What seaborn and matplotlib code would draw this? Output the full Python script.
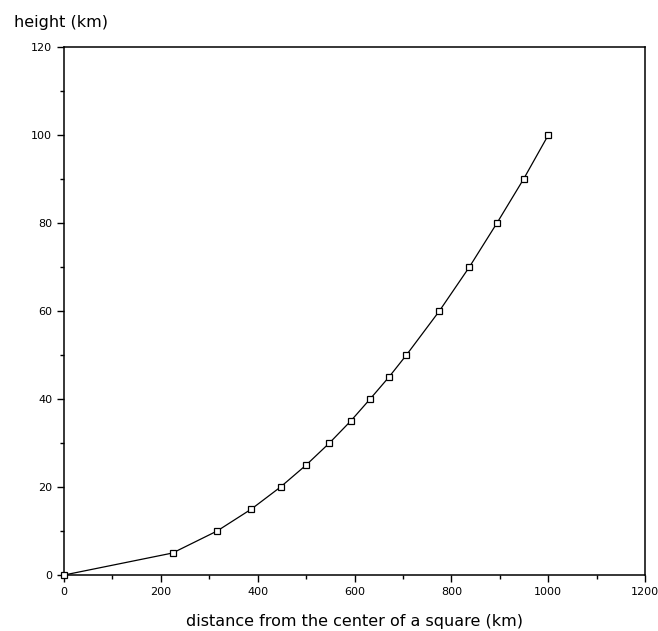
import matplotlib
matplotlib.use('Agg')
import matplotlib.pyplot as plt
import seaborn as sns
import pandas as pd
from matplotlib.ticker import MultipleLocator

# values
distance = [0, 224, 316, 387, 447, 500, 548, 592, 632, 671, 707, 775, 837, 894, 949, 1000]
height = [0, 5, 10, 15, 20, 25, 30, 35, 40, 45, 50, 60, 70, 80, 90, 100]
x_ticks = [0, 200, 400, 600, 800, 1000, 1200]
y_ticks = [0, 20, 40, 60, 80, 100, 120]

df = pd.DataFrame({'distance': distance, 'height': height})

sns.set_style('ticks')
plt.rcParams['font.family'] = ['DejaVu Sans']
plt.rcParams['text.color'] = 'black'
plt.rcParams['axes.labelcolor'] = 'black'
plt.rcParams['xtick.color'] = 'black'
plt.rcParams['ytick.color'] = 'black'

fig = plt.figure(figsize=(6.58, 6.31), dpi=100)
ax = fig.add_axes([0.0973, 0.0887, 0.8832, 0.8368])

sns.lineplot(data=df, x='distance', y='height', ax=ax, color='black', linewidth=0.9,
             marker='s', markersize=4.2, markerfacecolor='white',
             markeredgecolor='black', markeredgewidth=0.9, clip_on=False, zorder=5)

ax.set_xlim(0, 1200)
ax.set_ylim(0, 120)
ax.set_xticks(x_ticks)
ax.set_yticks(y_ticks)
ax.xaxis.set_minor_locator(MultipleLocator(100))
ax.yaxis.set_minor_locator(MultipleLocator(10))
ax.tick_params(which='major', direction='out', length=5, width=1, labelsize=8, colors='black')
ax.tick_params(which='minor', direction='out', length=3, width=1, colors='black')
for s in ax.spines.values():
    s.set_linewidth(1.1)
    s.set_color('black')

ax.set_xlabel('distance from the center of a square (km)', fontsize=11.5, labelpad=12, color='black')
ax.set_ylabel('')
fig.text(0.021, 0.965, 'height (km)', fontsize=11.5, ha='left', va='center', color='black')

fig.savefig('out.png', dpi=100)
